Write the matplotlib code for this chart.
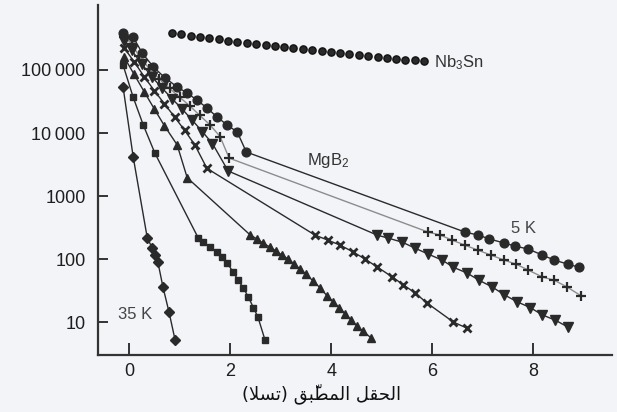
import matplotlib
matplotlib.use('Agg')
import matplotlib.pyplot as plt

plt.rcParams['font.family'] = ['Liberation Sans', 'DejaVu Sans']
plt.rcParams['mathtext.default'] = 'regular'

# ---------------- data (field in tesla, Jc) ----------------
nb3sn_x = [0.85, 1.03, 1.22, 1.40, 1.59, 1.77, 1.96, 2.14, 2.33, 2.51, 2.70, 2.88, 3.07, 3.25,
           3.44, 3.62, 3.81, 3.99, 4.18, 4.36, 4.55, 4.73, 4.92, 5.10, 5.29, 5.47, 5.66, 5.84]
nb3sn_y = [386000, 370000, 352000, 336000, 320000, 306000, 292000, 278000, 265000, 254000,
           245000, 236000, 228000, 220000, 212000, 205000, 198000, 191000, 184000, 178000,
           172000, 166000, 160000, 155000, 150000, 146000, 142000, 138000]

k5_x = [-0.12, 0.08, 0.26, 0.48, 0.71, 0.95, 1.15, 1.35, 1.54, 1.74, 1.94, 2.14, 2.32,
        6.65, 6.91, 7.13, 7.43, 7.64, 7.90, 8.18, 8.42, 8.69, 8.91]
k5_y = [390000, 333000, 185000, 112000, 75000, 54000, 43000, 33000, 25000, 18000, 13400, 10400, 5000,
        268, 240, 209, 179, 161, 144, 116, 96, 83, 74]

k10_x = [-0.10, 0.05, 0.20, 0.40, 0.60, 0.80, 1.00, 1.20, 1.40, 1.60, 1.80, 1.98,
         5.92, 6.16, 6.40, 6.65, 6.91, 7.17, 7.43, 7.66, 7.90, 8.18, 8.42, 8.67, 8.95]
k10_y = [340000, 260000, 165000, 105000, 72000, 51000, 37000, 27000, 19000, 13500, 8800, 4000,
         268, 240, 199, 166, 138, 115, 96, 83, 67, 52, 46, 36, 26]

k15_x = [-0.10, 0.05, 0.25, 0.45, 0.65, 0.85, 1.05, 1.25, 1.45, 1.65, 1.96,
         4.91, 5.13, 5.41, 5.66, 5.92, 6.20, 6.42, 6.69, 6.93, 7.19, 7.43, 7.68, 7.94, 8.18, 8.44, 8.69]
k15_y = [290000, 205000, 125000, 78000, 52000, 35000, 24000, 16000, 10500, 6800, 2500,
         240, 215, 185, 149, 120, 96, 74, 60, 46, 36, 27, 21, 17, 13, 10.7, 8.3]

k20_x = [-0.10, 0.10, 0.30, 0.50, 0.70, 0.90, 1.10, 1.30, 1.54,
         3.68, 3.94, 4.18, 4.44, 4.67, 4.91, 5.21, 5.43, 5.66, 5.90, 6.42, 6.69]
k20_y = [225000, 135000, 78000, 47000, 29000, 18000, 11000, 6500, 2750,
         240, 199, 166, 129, 100, 75, 52, 39, 29, 20, 10, 8]

k25_x = [-0.10, 0.10, 0.30, 0.50, 0.70, 0.95, 1.15,
         2.40, 2.53, 2.65, 2.79, 2.91, 3.03, 3.15, 3.27, 3.39, 3.50, 3.64, 3.78,
         3.92, 4.04, 4.16, 4.28, 4.40, 4.51, 4.63, 4.79]
k25_y = [160000, 85000, 45000, 24000, 13000, 6500, 1950,
         240, 209, 179, 155, 134, 115, 100, 83, 69, 58, 45, 35,
         26, 21, 17, 13.4, 10.7, 8.6, 7.2, 5.6]

k30_x = [-0.12, 0.08, 0.28, 0.51,
         1.37, 1.47, 1.60, 1.74, 1.84, 1.94, 2.06, 2.16, 2.26, 2.36, 2.46, 2.55, 2.69]
k30_y = [120000, 37000, 13400, 4800,
         215, 186, 155, 129, 107, 87, 62, 46, 35, 25, 17, 12, 5.2]

k35_x = [-0.12, 0.08, 0.36, 0.46, 0.51, 0.57, 0.67, 0.79, 0.91]
k35_y = [54000, 4200, 215, 149, 115, 89, 36, 14.4, 5.2]

ytick_vals = [10, 100, 1000, 10000, 100000]
ytick_labels = ['10', '100', '1000', '10\u2009000', '100\u2009000']
xtick_vals = [0, 2, 4, 6, 8]
xtick_labels = ['0', '2', '4', '6', '8']

# Arabic label in visual (shaped) order: "الحقل المطبّق (تسلا)"
xlabel_text = "(\uFEFC\uFEB4\uFE97) \uFED6\uFE92\u0651\uFEC4\uFEE4\uFEDF\uFE8D \uFEDE\uFED8\uFEA4\uFEDF\uFE8D"

# ---------------- figure ----------------
bg = '#f2f4f8'
ink = '#2a2a2a'
fig = plt.figure(figsize=(6.17, 4.12), dpi=100, facecolor=bg)
ax = fig.add_axes([0.159, 0.138, 0.833, 0.850], facecolor=bg)
ax.set_yscale('log')

ax.plot(nb3sn_x, nb3sn_y, ls='none', marker='o', ms=5.2, color=ink, mec='#111111')

lw = 1.0
ax.plot(k5_x, k5_y, '-', color=ink, lw=lw, marker='o', ms=6.3, mfc=ink, mec=ink)
ax.plot(k10_x, k10_y, '-', color='#8c8c8c', lw=lw, marker='+', ms=7, mew=1.6, mec=ink)
ax.plot(k15_x, k15_y, '-', color=ink, lw=lw, marker='v', ms=6.5, mfc=ink, mec=ink)
ax.plot(k20_x, k20_y, '-', color=ink, lw=lw, marker='x', ms=6, mew=2.0, mec=ink)
ax.plot(k25_x, k25_y, '-', color=ink, lw=lw, marker='^', ms=5.5, mfc=ink, mec=ink)
ax.plot(k30_x, k30_y, '-', color=ink, lw=lw, marker='s', ms=4.5, mfc=ink, mec=ink)
ax.plot(k35_x, k35_y, '-', color=ink, lw=lw, marker='D', ms=4.8, mfc=ink, mec=ink)

ax.set_xlim(-0.614, 9.56)
ax.set_ylim(2.99, 1.077e6)

ax.set_yticks(ytick_vals)
ax.set_yticklabels(ytick_labels)
ax.set_xticks(xtick_vals)
ax.set_xticklabels(xtick_labels)
ax.minorticks_off()

for s in ['top', 'right']:
    ax.spines[s].set_visible(False)
for s in ['left', 'bottom']:
    ax.spines[s].set_linewidth(1.6)
    ax.spines[s].set_color('#333333')

ax.tick_params(axis='y', direction='in', length=7, width=1.4, color='#333333',
               labelsize=13, pad=9, labelcolor='#1e1e1e')
ax.tick_params(axis='x', direction='in', length=8.5, width=1.4, color='#333333',
               labelsize=13, pad=6, labelcolor='#1e1e1e')

ax.text(6.04, 129000, 'Nb$_3$Sn', fontsize=12, color='#333333', va='center', ha='left')
ax.text(3.52, 3700, 'MgB$_2$', fontsize=12, color='#333333', va='center', ha='left')
ax.text(7.56, 310, '5 K', fontsize=12, color='#444444', va='center', ha='left')
ax.text(-0.22, 13.4, '35 K', fontsize=12, color='#444444', va='center', ha='left')

fig.text(322 / 617, 1 - 394 / 412, xlabel_text, family=['DejaVu Sans'], fontsize=13,
         color='#111111', ha='center', va='center')

fig.savefig('out.png', dpi=100, facecolor=bg)
